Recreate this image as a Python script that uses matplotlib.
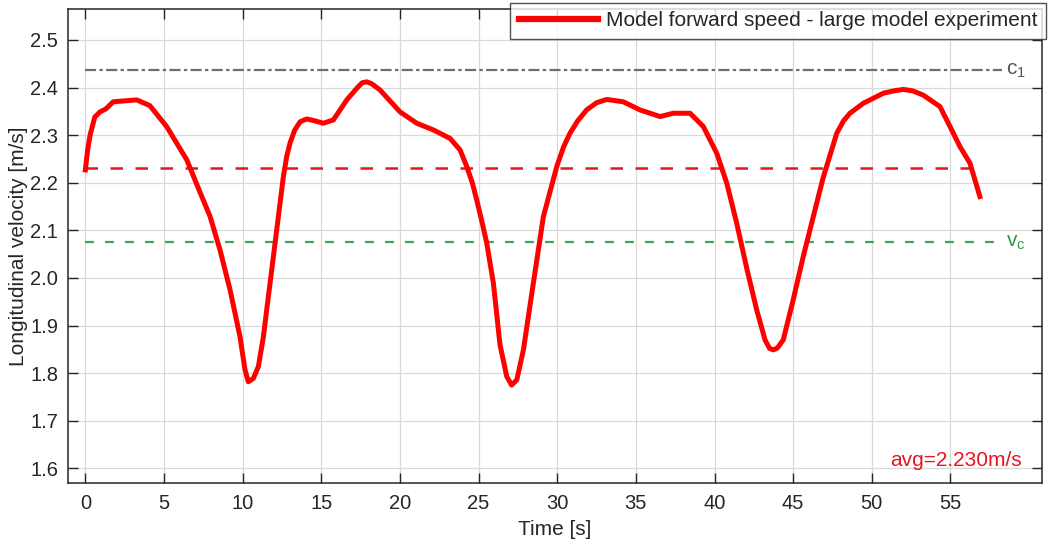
import matplotlib
matplotlib.use("Agg")
import matplotlib.pyplot as plt

plt.rcParams['font.family'] = ['Liberation Sans', 'DejaVu Sans']
plt.rcParams['mathtext.fontset'] = 'custom'
plt.rcParams['mathtext.rm'] = 'Liberation Sans'
plt.rcParams['mathtext.it'] = 'Liberation Sans'

time_s = [0, 0.15, 0.3, 0.6, 0.94, 1.3, 1.77, 2.5, 3.27, 4.1, 5.17, 6.45, 7.29, 7.93,
          8.56, 9.2, 9.83, 10.15, 10.36, 10.68, 11.0, 11.32, 11.53, 12.06, 12.59, 12.8,
          13.01, 13.3, 13.65, 14.07, 14.6, 15.13, 15.77, 16.62, 17.3, 17.6, 17.89, 18.2,
          18.73, 20.0, 21.07, 22.12, 23.19, 23.82, 24.25, 24.6, 24.88, 25.2, 25.52,
          25.94, 26.36, 26.79, 27.1, 27.43, 27.85, 28.48, 29.12, 29.97, 30.4, 30.81,
          31.3, 31.87, 32.5, 33.15, 34.2, 35.26, 36.54, 37.38, 38.44, 39.29, 40.14,
          40.78, 41.41, 42.05, 42.68, 43.21, 43.5, 43.74, 44.0, 44.37, 45.0, 45.64,
          46.28, 46.9, 47.77, 48.2, 48.61, 49.46, 50.73, 51.4, 52.0, 52.6, 53.27,
          54.33, 54.97, 55.6, 56.24, 56.87]
velocity = [2.227, 2.27, 2.30, 2.338, 2.349, 2.355, 2.370, 2.372, 2.374, 2.362, 2.318,
            2.248, 2.18, 2.129, 2.059, 1.975, 1.877, 1.807, 1.782, 1.789, 1.814, 1.877,
            1.933, 2.073, 2.213, 2.255, 2.283, 2.31, 2.328, 2.334, 2.330, 2.325, 2.332,
            2.374, 2.400, 2.41, 2.412, 2.408, 2.395, 2.349, 2.325, 2.311, 2.293, 2.269,
            2.234, 2.20, 2.164, 2.12, 2.073, 1.989, 1.860, 1.793, 1.775, 1.786, 1.849,
            1.989, 2.129, 2.234, 2.275, 2.304, 2.33, 2.353, 2.368, 2.375, 2.370, 2.353,
            2.339, 2.346, 2.346, 2.318, 2.262, 2.199, 2.115, 2.020, 1.933, 1.870, 1.852,
            1.849, 1.853, 1.870, 1.954, 2.045, 2.129, 2.210, 2.304, 2.33, 2.346, 2.367,
            2.388, 2.393, 2.396, 2.393, 2.384, 2.360, 2.318, 2.276, 2.241, 2.171]

avg_speed = 2.230
c1_level = 2.436
vc_level = 2.075
ref_x_end = 58.3
x_ticks = [0, 5, 10, 15, 20, 25, 30, 35, 40, 45, 50, 55]
y_ticks = [1.6, 1.7, 1.8, 1.9, 2.0, 2.1, 2.2, 2.3, 2.4, 2.5]

fig = plt.figure(figsize=(10.55, 5.44), dpi=100)
ax = fig.add_axes([0.0645, 0.1127, 0.9229, 0.8708])

dark = '#262626'
ax.plot([0, ref_x_end], [c1_level, c1_level], color='#6e6e6e', lw=1.6,
        linestyle=(0, (5, 1.5, 1.5, 1.5)))
ax.plot([0, ref_x_end], [vc_level, vc_level], color='#3da55a', lw=1.6,
        linestyle=(0, (4, 5)))
ax.plot([0, time_s[-1]], [avg_speed, avg_speed], color='#e8141e', lw=1.8,
        linestyle=(0, (5, 5)))
line, = ax.plot(time_s, velocity, color='#ff0000', lw=3.6, solid_joinstyle='round',
                label='Model forward speed - large model experiment', zorder=5)

ax.text(58.5, c1_level, r'c$_{1}$', color='#555555', fontsize=15, va='center', ha='left')
ax.text(58.5, vc_level, r'v$_{c}$', color='#2e9a4a', fontsize=15, va='center', ha='left')
ax.text(0.9795, 0.046, 'avg=%.3fm/s' % avg_speed, transform=ax.transAxes, color='#e8141e',
        fontsize=15, ha='right', va='center')

ax.set_xlim(-1.1, 60.8)
ax.set_ylim(1.570, 2.565)
ax.set_xticks(x_ticks)
ax.set_yticks(y_ticks)
ax.set_yticklabels(['%.1f' % v for v in y_ticks])
ax.grid(True, color='#d9d9d9', lw=0.9)
ax.set_axisbelow(True)
ax.tick_params(direction='in', length=7, width=1, top=True, right=True,
               labelsize=14.5, colors=dark)
ax.tick_params(axis='x', pad=8)
ax.tick_params(axis='y', pad=7)
for s in ax.spines.values():
    s.set_color(dark)
    s.set_linewidth(1.1)
ax.set_xlabel('Time [s]', fontsize=15, color=dark, labelpad=5)
ax.set_ylabel('Longitudinal velocity [m/s]', fontsize=15, color=dark, labelpad=2)

leg = fig.legend(handles=[line], loc='upper right', bbox_to_anchor=(0.9915, 0.9945),
                 fontsize=15, frameon=True, fancybox=False, borderaxespad=0,
                 handlelength=3.8, borderpad=0.4, handletextpad=0.4)
leg.get_frame().set_edgecolor(dark)
leg.get_frame().set_linewidth(1.0)
leg.get_lines()[0].set_linewidth(4.5)
for t in leg.get_texts():
    t.set_color(dark)

fig.savefig('out.png', dpi=100)
